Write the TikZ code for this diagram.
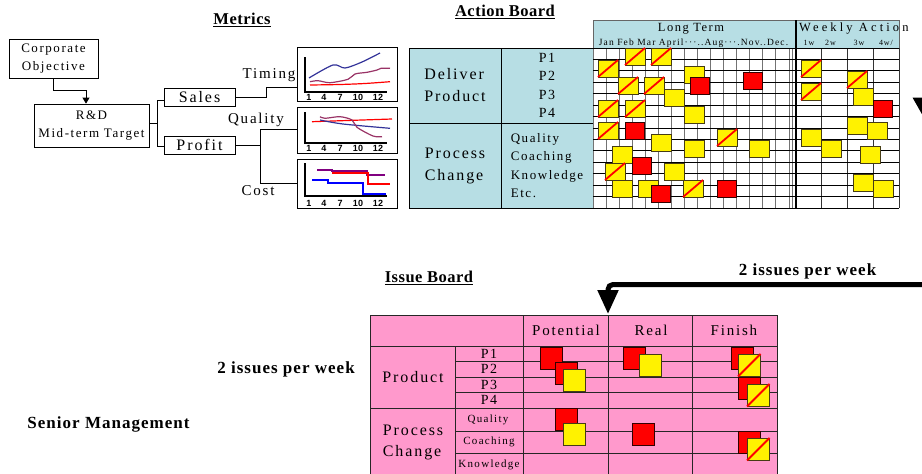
\documentclass[tikz,border=0pt]{standalone}
\usepackage{fontspec}
\setmainfont{Liberation Serif}[LetterSpace=12]
\newfontfamily\tickfont{Liberation Sans}
\newfontfamily\boldttl{Liberation Serif}[LetterSpace=3]
\newfontfamily\boldtxt{Liberation Serif}[LetterSpace=6]
\usetikzlibrary{arrows.meta}
\definecolor{tealbg}{RGB}{183,222,228}
\definecolor{pinkbg}{RGB}{255,153,204}
\definecolor{cnavy}{RGB}{51,51,153}
\definecolor{cplum}{RGB}{153,51,102}
\definecolor{cpurp}{RGB}{128,0,128}
\definecolor{sqedge}{RGB}{70,60,20}
\newcommand\mkY[2]{\draw[ybox] (#1,#2) rectangle ++(20,17);}
\newcommand\mkYS[2]{\draw[ybox] (#1,#2) rectangle ++(20,17);\draw[slash] ({#1},{#2+17}) -- ++(20,-17);}
\newcommand\mkR[2]{\draw[rbox] (#1,#2) rectangle ++(19,17);}
\newcommand\bigY[2]{\draw[ybox] (#1,#2) rectangle ++(22.5,22.5);}
\newcommand\bigYS[2]{\draw[ybox] (#1,#2) rectangle ++(22.5,22.5);\draw[slash] ({#1},{#2+22.5}) -- ++(22.5,-22.5);}
\newcommand\bigR[2]{\draw[rbox] (#1,#2) rectangle ++(22.5,22.5);}
\begin{document}
\begin{tikzpicture}[x=1pt,y=-1pt,
  box/.style={draw,line width=0.8pt,inner sep=0pt,align=center},
  conn/.style={line width=0.8pt},
  ttl/.style={font=\boldttl\fontsize{16.5}{18}\selectfont\bfseries,inner sep=0pt},
  bigtxt/.style={font=\boldtxt\fontsize{17}{18}\selectfont\bfseries,inner sep=0pt},
  tick/.style={font=\tickfont\bfseries\fontsize{9}{9}\selectfont,inner sep=0pt},
  ftxt/.style={font=\fontsize{#1}{#1}\selectfont,inner sep=0pt},
  tcell/.style={draw,fill=tealbg,line width=0.8pt,inner sep=0pt},
  hcell/.style={draw=black!60,fill=tealbg,line width=0.8pt,inner sep=0pt},
  gridv/.style={draw=black!55,line width=1pt},
  gridh/.style={draw=black,line width=0.8pt},
  ybox/.style={fill=yellow,draw=sqedge,line width=0.8pt},
  rbox/.style={fill=red,draw=black!80!red,line width=0.8pt},
  slash/.style={draw=red,line width=1.8pt},
  ibline/.style={draw=black!85,line width=0.8pt}
]
\useasboundingbox (0,0) rectangle (922,474);
\clip (0,0) rectangle (922,474);

% ---------------- Metrics part ----------------
\node[ttl] (metrics) at (242,20) {\underline{Metrics}};
\node[box,minimum width=89pt,minimum height=39pt,font=\fontsize{13}{18}\selectfont] (corp) at (53.5,58.5) {Corporate\\Objective};
\node[box,minimum width=115pt,minimum height=43pt,font=\fontsize{13}{18}\selectfont] (rd) at (91.5,125.5) {R\&D\\Mid-term Target};
\node[box,minimum width=71pt,minimum height=18pt,font=\fontsize{16}{16}\selectfont] (sales) at (199.5,97) {Sales};
\node[box,minimum width=71pt,minimum height=18pt,font=\fontsize{16}{16}\selectfont] (profit) at (199.5,145) {Profit};
\node[ftxt=15] (timing) at (269,75) {Timing};
\node[ftxt=15] (quality) at (256,120) {Quality};
\node[ftxt=15] (cost) at (258,191) {Cost};

\node[box,minimum width=100pt,minimum height=54pt] (chart1) at (347,74) {};
\node[box,minimum width=100pt,minimum height=46pt] (chart2) at (347,130) {};
\node[box,minimum width=100pt,minimum height=49pt] (chart3) at (347,183.5) {};

\draw[conn,-{Triangle[width=7pt,length=6pt]}] (corp.south) -- ++(0,12) -| ([xshift=-5.5pt]rd.north);
\draw[conn] ([yshift=2.5pt]rd.east) -- ++(8,0) coordinate (j1);
\draw[conn] ([yshift=-3pt]sales.west) -| (j1) |- ([yshift=-1pt]profit.west);
\draw[conn] (sales.east) -- ++(31,0) |- ([yshift=-13.5pt]chart1.west);
\draw[conn] (profit.east) -- ++(25,0) coordinate (j2);
\draw[conn] ([yshift=1pt]chart2.west) -| (j2) |- ([yshift=0.5pt]chart3.west);

% chart 1
\draw[line width=1.3pt] (305,57) -- (305,92) -- (387,92);
\foreach \t/\xx in {1/309,4/324,7/340,10/358,12/378} \node[tick] (ta\t) at (\xx,97) {\t};
\draw[cnavy,line width=1.2pt] plot[smooth] coordinates {(309,78) (333,65) (345,68) (362,62) (380,53)};
\draw[cplum,line width=1.2pt] plot[smooth] coordinates {(310,81.7) (318,80.7) (330,82.7) (348,79.3) (355,74) (367,72.3) (377,70) (381,68.3) (390,68.3)};
\draw[red,line width=1.2pt] plot[smooth] coordinates {(310,85) (340,84.5) (365,83.5) (390,81.7)};
% chart 2
\draw[line width=1.3pt] (305,112) -- (305,143) -- (387,143);
\foreach \t/\xx in {1/309,4/324,7/340,10/358,12/378} \node[tick] (tb\t) at (\xx,148) {\t};
\draw[red,line width=1.2pt] (312,121.7) -- (392,119);
\draw[cnavy,line width=1.2pt] plot[smooth] coordinates {(320,120) (343,124) (390,128.3)};
\draw[cplum,line width=1.2pt] plot[smooth] coordinates {(320,116.7) (325,118.3) (340,116.7) (352,120) (357,127.3) (373,136) (382,136.7)};
% chart 3
\draw[line width=1.3pt] (305,163) -- (305,196) -- (387,196);
\foreach \t/\xx in {1/309,4/324,7/340,10/358,12/378} \node[tick] (tc\t) at (\xx,203) {\t};
\draw[cpurp,line width=2pt] (317,170) -- (332,170) -- (332,171) -- (367,171) -- (367,175) -- (385,175);
\draw[red,line width=2.2pt] (332,173) -- (368,173) -- (368,184) -- (390,184);
\draw[blue,line width=1.6pt] (312,180) -- (328,180) -- (328,182.7) -- (363,182.7) -- (363,194) -- (386,194);

% ---------------- Action Board ----------------
\node[ttl] (actionttl) at (505,12) {\underline{Action Board}};
\node[tcell,minimum width=92pt,minimum height=75pt,align=left,font=\fontsize{16}{22}\selectfont] (deliver) at (455,85.5) {Deliver\\Product};
\node[tcell,minimum width=92pt,minimum height=75pt,align=center,font=\fontsize{14}{18.3}\selectfont] (plist) at (547,85.5) {P1\\P2\\P3\\P4};
\node[tcell,minimum width=92pt,minimum height=85pt,align=left,font=\fontsize{16}{22}\selectfont] (process) at (455,165.5) {Process\\Change};
\node[tcell,minimum width=92pt,minimum height=85pt,align=left,font=\fontsize{13}{18.3}\selectfont] (qlist) at (547,165.5) {Quality\\Coaching\\Knowledge\\Etc.};

\node[hcell,minimum width=203pt,minimum height=28pt] (lthead) at (694.5,34) {};
\node[hcell,minimum width=103pt,minimum height=28pt] (wkhead) at (847.5,34) {};
\node[ftxt=12.5] (ltlabel) at (691,29) {Long Term};
\node[ftxt=9.5] (months) at (693.5,43) {Jan Feb Mar April···..Aug···.Nov..Dec.};
\node[ftxt=12.5,anchor=west] (wklabel) at (799,29) {\addfontfeature{LetterSpace=25}Weekly Action};
\node[ftxt=8] (w1) at (809,43) {1w};
\node[ftxt=8] (w2) at (830.5,43) {2w};
\node[ftxt=8] (w3) at (859,43) {3w};
\node[ftxt=8] (w4) at (886,43) {4w/};

\fill[white] (593,48) rectangle (899,208);
\foreach \i in {0,...,15} \draw[gridv] ({593+\i*13.067},48) -- ({593+\i*13.067},208);
\draw[gridv] (792.5,48) -- (792.5,208);
\foreach \xx in {821,847,873,899} \draw[gridv,draw=black!80] (\xx,48) -- (\xx,208);
\foreach \j in {0,...,14} \draw[gridh] (593,{48+\j*11.43}) -- (899,{48+\j*11.43});
\draw[line width=2pt] (796,20) -- (796,208);
\draw[line width=0.8pt] (409,208) -- (593,208);

% long-term squares
\mkY{684}{66} \mkY{664}{89} \mkY{684}{106} \mkY{651}{134} \mkY{684}{140} \mkY{749}{140}
\mkY{612}{146} \mkY{664}{163} \mkY{612}{180} \mkY{638}{180}
\mkYS{598}{60} \mkYS{625}{48} \mkYS{651}{48} \mkYS{618}{77} \mkYS{644}{77} \mkYS{598}{100}
\mkYS{625}{100} \mkYS{598}{122} \mkYS{717}{129} \mkYS{605}{163} \mkYS{683}{180}
\mkR{690}{77} \mkR{743}{72} \mkR{625}{122} \mkR{632}{157} \mkR{651}{185} \mkR{717}{180}
% weekly squares
\mkYS{801}{60} \mkYS{801}{83} \mkYS{847}{71}
\mkY{853}{88} \mkY{847}{117} \mkY{867}{122} \mkY{801}{129} \mkY{821}{140} \mkY{860}{146}
\mkY{853}{174} \mkY{873}{180}
\mkR{873}{100}

% cut arrowhead at right edge
\fill (912.5,97.5) -- (934,97.5) -- (923,116) -- cycle;

% ---------------- Issue Board ----------------
\node[ttl] (issuettl) at (429,278) {\underline{Issue Board}};
\node[bigtxt] (issuesR) at (807.5,271) {2 issues per week};
\node[bigtxt] (issuesL) at (286,369) {2 issues per week};
\node[bigtxt] (senior) at (108.5,424) {Senior Management};

\fill[pinkbg] (370,315) rectangle (777,480);
\draw[ibline] (370,480) -- (370,315) -- (777,315) -- (777,480);
\draw[ibline] (370,346) -- (777,346);
\draw[ibline] (370,408) -- (777,408);
\foreach \yy in {361,377,392,431,453} \draw[ibline] (455,\yy) -- (777,\yy);
\foreach \xx in {523,608,692} \draw[ibline] (\xx,315) -- (\xx,480);
\draw[ibline] (455,346) -- (455,480);

\node[ftxt=15] (pot) at (566,330.5) {Potential};
\node[ftxt=15] (real) at (651,330.5) {Real};
\node[ftxt=15] (fin) at (734,330.5) {Finish};
\node[ftxt=16] (prod) at (413,377) {Product};
\node[inner sep=0pt,align=left,font=\fontsize{16}{21}\selectfont] (pchg) at (413,442.5) {Process\\Change};
\node[ftxt=14] (ip1) at (489,353.5) {P1};
\node[ftxt=14] (ip2) at (489,369) {P2};
\node[ftxt=14] (ip3) at (489,384.5) {P3};
\node[ftxt=14] (ip4) at (489,400) {P4};
\node[ftxt=11] (iq) at (488,419.5) {Quality};
\node[ftxt=11] (ic) at (489,442) {Coaching};
\node[ftxt=11] (ik) at (489,465) {Knowledge};

\bigR{540}{347} \bigR{555}{362} \bigY{563}{369}
\bigR{623}{347} \bigY{639}{354}
\bigR{731}{347} \bigYS{738}{354} \bigR{738}{377} \bigYS{747}{384}
\bigR{555}{408} \bigY{563}{423}
\bigR{632}{423}
\bigR{738}{431} \bigYS{747}{438}

\coordinate (bigsrc) at (940,284.5);
\coordinate (ibtop) at (608,314);
\draw[line width=5pt,rounded corners=5pt,-{Triangle[width=20pt,length=24pt]}] (bigsrc) -| (ibtop);
\end{tikzpicture}
\end{document}
